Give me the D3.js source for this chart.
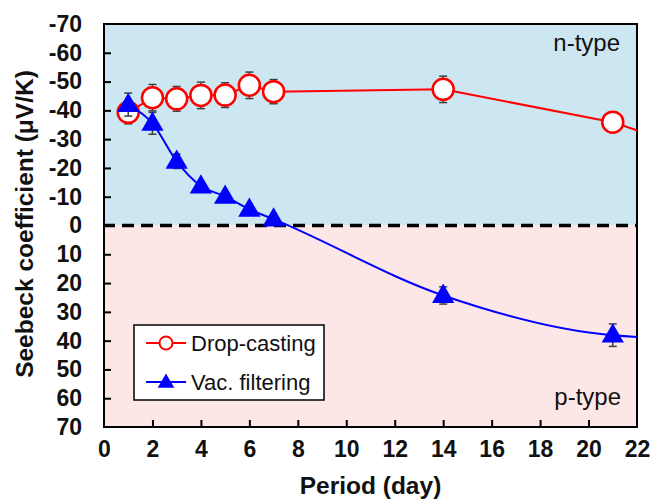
<!DOCTYPE html>
<html>
<head>
<meta charset="utf-8">
<script src="https://cdn.jsdelivr.net/npm/d3@7"></script>
<style>
  body { margin: 0; background: #fff; }
  svg text { font-family: Arial, "Liberation Sans", sans-serif; }
</style>
</head>
<body>
<div id="chart"></div>
<script>
// data (negative = n-type)
var days = [1, 2, 3, 4, 5, 6, 7, 14, 21, 28];
var dropCasting = [-39.3, -44.4, -44, -45.2, -45.3, -48.7, -46.5, -47.3, -35.9, -16];
var dropErr = [4, 4.6, 4.3, 4.6, 4.3, 4.6, 4.2, 4.6, 2, 0];
var vacFiltering = [-42, -35.5, -22.3, -13.7, -10.1, -5.6, -2.2, 24.3, 38.1, 40.5];
var vacErr = [4, 3.8, 2.5, 1.5, 1, 1, 1, 3, 3.9, 0];
var xTicks = [0, 2, 4, 6, 8, 10, 12, 14, 16, 18, 20, 22];
var yTicks = [-70, -60, -50, -40, -30, -20, -10, 0, 10, 20, 30, 40, 50, 60, 70];

var W = 651, H = 500;
var margin = {top: 24, right: 14, bottom: 73, left: 104};
var width = W - margin.left - margin.right,
    height = H - margin.top - margin.bottom;

var svg = d3.select("#chart").append("svg")
    .attr("width", W).attr("height", H);

var x = d3.scaleLinear().domain([0, 22]).range([0, width]);
var y = d3.scaleLinear().domain([-70, 70]).range([0, height]);

var g = svg.append("g")
    .attr("transform", "translate(" + margin.left + "," + margin.top + ")");

svg.append("defs").append("clipPath").attr("id", "plotclip")
    .append("rect").attr("width", width).attr("height", height);

// region shading
g.append("rect").attr("x", 0).attr("y", 0)
    .attr("width", width).attr("height", y(0))
    .attr("fill", "#cde7f2");
g.append("rect").attr("x", 0).attr("y", y(0))
    .attr("width", width).attr("height", height - y(0))
    .attr("fill", "#fde6e6");

g.append("text").attr("x", x(22) - 17).attr("y", 27)
    .attr("text-anchor", "end").attr("font-size", 24).attr("fill", "#111")
    .text("n-type");
g.append("text").attr("x", x(22) - 16).attr("y", 381)
    .attr("text-anchor", "end").attr("font-size", 24).attr("fill", "#111")
    .text("p-type");

// dashed zero line
g.append("line")
    .attr("x1", -1).attr("x2", width)
    .attr("y1", y(0)).attr("y2", y(0))
    .attr("stroke", "#000").attr("stroke-width", 3.5)
    .attr("stroke-dasharray", "12,7");

// axes, ticks inside
var fmt = function(d) { return String(d); };
var xAxis = g.append("g")
    .attr("transform", "translate(0," + height + ")")
    .call(d3.axisBottom(x).tickValues(xTicks).tickFormat(fmt).tickSize(-7).tickPadding(14));
var yAxis = g.append("g")
    .call(d3.axisLeft(y).tickValues(yTicks).tickFormat(fmt).tickSize(-7).tickPadding(22));
[xAxis, yAxis].forEach(function(a) {
    a.select(".domain").remove();
    a.selectAll(".tick line").attr("stroke", "#000").attr("stroke-width", 2);
    a.selectAll("text").attr("font-size", 23).attr("font-weight", "bold")
        .attr("fill", "#111").attr("font-family", "Arial, 'Liberation Sans', sans-serif");
});
yAxis.selectAll(".tick line").filter(function(d) { return d == -70 || d == 70 || d == 0; }).remove();
xAxis.selectAll(".tick line").filter(function(d) { return d == 0 || d == 22; }).remove();

// frame
g.append("rect").attr("width", width).attr("height", height)
    .attr("fill", "none").attr("stroke", "#000").attr("stroke-width", 2);

var plot = g.append("g").attr("clip-path", "url(#plotclip)");

function errorBars(vals, errs) {
    var eb = plot.append("g").attr("stroke", "#404040").attr("stroke-width", 1.5);
    days.forEach(function(d, i) {
        if (!errs[i]) return;
        var cx = x(d), y1 = y(vals[i] - errs[i]), y2 = y(vals[i] + errs[i]);
        eb.append("line").attr("x1", cx).attr("x2", cx).attr("y1", y1).attr("y2", y2);
        eb.append("line").attr("x1", cx - 4).attr("x2", cx + 4).attr("y1", y1).attr("y2", y1);
        eb.append("line").attr("x1", cx - 4).attr("x2", cx + 4).attr("y1", y2).attr("y2", y2);
    });
}

var tri = d3.symbol().type(d3.symbolTriangle).size(215);

// drop-casting
errorBars(dropCasting, dropErr);
plot.append("path")
    .datum(days.map(function(d, i) { return [d, dropCasting[i]]; }))
    .attr("fill", "none").attr("stroke", "#ff0000").attr("stroke-width", 2)
    .attr("d", d3.line().x(function(d) { return x(d[0]); }).y(function(d) { return y(d[1]); }));
plot.selectAll(".dc").data(days).enter().append("circle")
    .attr("cx", function(d) { return x(d); })
    .attr("cy", function(d, i) { return y(dropCasting[i]); })
    .attr("r", 10.5)
    .attr("fill", "#fff").attr("stroke", "#ff0000").attr("stroke-width", 2.5);

// vac. filtering
errorBars(vacFiltering, vacErr);
plot.append("path")
    .datum(days.map(function(d, i) { return [d, vacFiltering[i]]; }))
    .attr("fill", "none").attr("stroke", "#0000ff").attr("stroke-width", 2)
    .attr("d", d3.line().curve(d3.curveMonotoneX)
        .x(function(d) { return x(d[0]); }).y(function(d) { return y(d[1]); }));
plot.selectAll(".vf").data(days).enter().append("path")
    .attr("d", tri)
    .attr("transform", function(d, i) {
        return "translate(" + x(d) + "," + (y(vacFiltering[i]) + 1) + ")";
    })
    .attr("fill", "#0000ff");

// legend
var leg = svg.append("g").attr("transform", "translate(134,325)");
leg.append("rect").attr("width", 190).attr("height", 75)
    .attr("fill", "#fff").attr("stroke", "#000").attr("stroke-width", 1.5);
var items = [
    {name: "Drop-casting", color: "#ff0000", shape: "circle"},
    {name: "Vac. filtering", color: "#0000ff", shape: "tri"}
];
items.forEach(function(it, i) {
    var ly = 18 + i * 39;
    leg.append("line").attr("x1", 12).attr("x2", 52).attr("y1", ly).attr("y2", ly)
        .attr("stroke", it.color).attr("stroke-width", 2);
    if (it.shape == "circle") {
        leg.append("circle").attr("cx", 32).attr("cy", ly).attr("r", 6.5)
            .attr("fill", "#fff").attr("stroke", it.color).attr("stroke-width", 2);
    } else {
        leg.append("path").attr("d", d3.symbol().type(d3.symbolTriangle).size(120))
            .attr("transform", "translate(32," + (ly + 1) + ")").attr("fill", it.color);
    }
    leg.append("text").attr("x", 57).attr("y", ly).attr("dy", "0.36em")
        .attr("font-size", 22).attr("fill", "#111").text(it.name);
});

// axis titles
svg.append("text").attr("x", margin.left + width / 2).attr("y", 494)
    .attr("text-anchor", "middle").attr("font-size", 24.5).attr("font-weight", "bold")
    .attr("fill", "#111").text("Period (day)");
svg.append("text")
    .attr("transform", "translate(33,224) rotate(-90)")
    .attr("text-anchor", "middle").attr("font-size", 24.5).attr("font-weight", "bold")
    .attr("fill", "#111").text("Seebeck coefficient (μV/K)");
</script>
</body>
</html>
